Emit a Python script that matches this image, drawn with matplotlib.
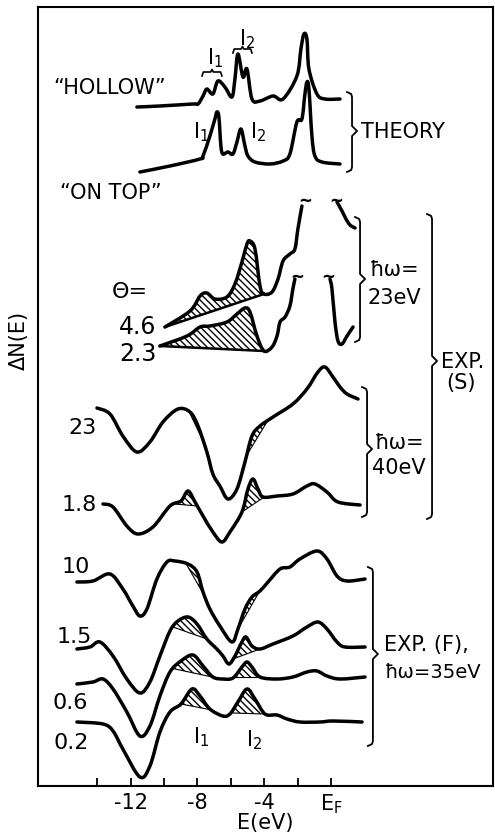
import numpy as np
import matplotlib
matplotlib.use("Agg")
import matplotlib.pyplot as plt
from matplotlib.path import Path
from matplotlib.patches import PathPatch

plt.rcParams['font.family'] = ['DejaVu Sans']
plt.rcParams['hatch.linewidth'] = 1.0
plt.rcParams['mathtext.default'] = 'regular'

# ---- theory curves (E in eV, dN in arbitrary units incl. offset) ----
hollow_E = [-11.62, -10.24, -8.26, -7.96, -7.66, -7.43, -7.07, -6.77, -6.35, -5.93, -5.75, -5.57,
            -5.27, -5.03, -4.73, -4.25, -3.47, -2.87, -2.04, -1.80, -1.62, -1.44, -1.32, -0.84, -0.36, 0.54]
hollow_N = [67.9, 68.0, 68.2, 68.2, 69.0, 69.7, 69.2, 70.5, 69.9, 68.9, 70.7, 73.2,
            70.9, 71.7, 68.7, 68.5, 69.0, 68.7, 71.0, 73.7, 75.2, 74.7, 71.7, 69.2, 68.7, 68.7]

ontop_E = [-11.44, -9.64, -7.84, -7.66, -7.25, -6.95, -6.83, -6.71, -6.59, -6.47, -6.17, -5.87,
           -5.63, -5.39, -5.15, -4.97, -4.55, -3.65, -2.87, -2.46, -2.04, -1.74, -1.56, -1.44,
           -1.32, -1.14, -0.96, -0.54, 0.54]
ontop_N = [61.4, 62.0, 62.7, 63.0, 65.0, 66.7, 67.4, 66.9, 64.0, 63.2, 63.4, 63.2,
           64.4, 65.7, 64.0, 63.0, 62.4, 62.2, 62.5, 63.2, 66.4, 66.7, 69.2, 70.4,
           69.7, 65.0, 63.0, 62.4, 62.2]

# ---- EXP (S), hw = 23 eV (broken curves) ----
s46_E = [-9.94, -8.44, -7.84, -7.43, -6.95, -6.23, -5.75, -5.33, -5.03, -4.85, -4.55, -4.25,
         -4.01, -3.53, -3.17, -2.87, -2.46, -2.16, -1.98, -1.74]
s46_N = [45.9, 47.5, 49.0, 49.3, 48.7, 48.9, 50.2, 52.4, 54.2, 54.5, 53.7, 50.0,
         49.2, 49.4, 50.7, 52.5, 53.2, 53.7, 55.7, 58.0]
s46r_E = [0.36, 0.66, 0.90, 1.14, 1.44]
s46r_N = [58.4, 57.5, 56.7, 56.1, 55.8]

s23_E = [-10.24, -8.62, -7.84, -7.25, -6.23, -5.63, -5.15, -4.85, -4.43, -4.01, -3.53, -3.23,
         -3.05, -2.75, -2.46, -2.28, -2.16]
s23_N = [44.0, 45.0, 45.9, 46.0, 46.4, 47.2, 47.8, 47.4, 45.0, 43.5, 43.9, 45.0,
         46.4, 46.9, 48.0, 49.7, 50.7]
s23r_E = [-0.06, 0.06, 0.24, 0.42, 0.66, 0.96, 1.32]
s23r_N = [50.7, 49.7, 46.4, 44.5, 44.2, 45.0, 45.9]

# ---- EXP (S), hw = 40 eV ----
t23_E = [-14.01, -13.23, -12.46, -11.62, -10.84, -10.06, -9.16, -8.44, -7.96, -7.43, -7.07, -6.65,
         -6.17, -5.63, -5.15, -4.73, -4.25, -3.47, -2.28, -1.44, -0.78, -0.36, 0.12, 0.54, 0.96, 1.62]
t23_N = [37.8, 37.2, 35.0, 33.4, 34.4, 36.4, 37.7, 37.4, 36.0, 33.4, 31.2, 30.0,
         28.7, 29.7, 32.4, 35.0, 36.0, 36.9, 38.2, 39.7, 41.4, 41.9, 40.9, 39.9, 39.2, 38.7]

t18_E = [-13.65, -13.05, -12.22, -11.56, -10.66, -9.64, -8.98, -8.56, -8.14, -7.66, -7.07, -6.53,
         -6.05, -5.33, -4.97, -4.67, -4.37, -4.07, -3.23, -2.28, -1.44, -0.96, -0.24, 0.42, 1.74]
t18_N = [28.2, 27.9, 26.0, 25.2, 25.9, 28.0, 28.5, 29.5, 28.4, 27.0, 25.4, 24.4,
         25.4, 27.4, 29.7, 30.7, 29.7, 28.9, 29.0, 29.2, 30.0, 30.2, 29.4, 28.4, 28.1]

# ---- EXP (F), hw = 35 eV ----
f10_E = [-15.21, -14.25, -13.23, -12.46, -11.86, -11.44, -11.02, -10.42, -9.82, -9.34, -8.56, -8.02,
         -7.66, -7.25, -6.65, -5.93, -5.57, -5.15, -4.73, -4.25, -3.77, -3.05, -2.46, -1.86,
         -0.84, -0.24, 0.36, 0.96, 2.04]
f10_N = [20.4, 20.5, 21.2, 19.7, 18.0, 17.0, 17.7, 20.7, 22.4, 22.5, 22.2, 21.4,
         19.4, 17.7, 16.0, 14.4, 15.7, 17.7, 18.9, 19.5, 20.4, 21.7, 21.9, 22.7,
         23.5, 22.7, 21.0, 20.5, 20.7]

f15_E = [-15.21, -14.43, -13.83, -13.05, -12.22, -11.44, -10.84, -10.24, -9.64, -9.16, -8.56, -8.02,
         -7.43, -6.83, -6.47, -6.11, -5.75, -5.33, -5.09, -4.73, -4.25, -3.47, -2.28, -1.44,
         -0.78, -0.24, 0.36, 0.84, 2.04]
f15_N = [13.7, 13.9, 14.4, 13.0, 10.7, 9.3, 10.4, 13.0, 15.5, 16.5, 16.9, 16.2,
         14.7, 13.7, 13.0, 12.2, 13.0, 14.4, 14.9, 14.0, 13.7, 14.2, 15.0, 15.9,
         16.4, 15.7, 14.4, 13.9, 13.9]

f06_E = [-15.21, -14.25, -13.65, -13.05, -12.22, -11.44, -10.84, -10.24, -9.64, -8.98, -8.26, -7.66,
         -7.07, -6.47, -5.87, -5.33, -5.03, -4.73, -4.25, -3.23, -2.28, -1.44, -0.84, -0.24, 0.54, 2.04]
f06_N = [10.2, 10.4, 10.7, 9.7, 7.4, 5.0, 6.0, 9.0, 11.4, 12.5, 13.1, 12.0,
         10.9, 10.7, 10.8, 11.9, 12.4, 11.9, 10.9, 10.7, 10.9, 11.4, 11.5, 11.0, 10.7, 10.9]

f02_E = [-15.21, -13.65, -13.05, -12.46, -11.44, -10.84, -10.24, -9.64, -8.98, -8.32, -7.84, -7.25,
         -6.47, -6.05, -5.57, -5.03, -4.55, -3.95, -3.23, -2.63, -1.86, -0.66, 0.12, 1.86]
f02_N = [6.4, 6.2, 5.5, 3.7, 0.9, 2.0, 5.4, 7.4, 8.2, 9.7, 9.0, 7.7,
         7.0, 7.2, 8.4, 9.7, 8.7, 7.2, 7.1, 6.7, 6.4, 6.4, 6.5, 6.4]

# hatched I1 / I2 features: (E0, N0, E1, N1) chords under each bump
s46_hatch = [(-9.94, 45.9, -4.01, 49.2)]
s23_hatch = [(-10.24, 44.0, -4.01, 43.5)]
t23_hatch = [(-8.5, 37.45, -7.6, 34.3), (-5.0, 33.2, -3.8, 36.5)]
t18_hatch = [(-9.34, 28.2, -8.0, 28.0), (-5.33, 27.4, -4.0, 28.9)]
f10_hatch = [(-8.7, 22.3, -7.6, 19.1), (-5.5, 15.9, -4.3, 19.4)]
f15_hatch = [(-9.46, 15.9, -7.43, 14.7), (-5.87, 12.7, -4.25, 13.7)]
f06_hatch = [(-9.34, 11.7, -6.83, 10.8), (-5.75, 10.9, -4.25, 10.9)]
f02_hatch = [(-8.98, 8.2, -7.13, 7.6), (-5.87, 7.3, -4.0, 7.2)]

tick_pos = [-14, -12, -10, -8, -6, -4, -2, 0]
tick_lab = ['', '-12', '', '-8', '', '-4', '', '$E_F$']

FS = 15
NS = 16
LW = 2.5

fig = plt.figure(figsize=(4.95, 8.37), dpi=100)
ax = fig.add_axes([38 / 495, 50 / 837, 455 / 495, 779 / 837])
ax.set_xlim(-17.54, 9.70)
ax.set_ylim(0, 77.9)


def curve(E, N):
    # smooth pen-like line through the read points (cubic Bezier path)
    P = np.column_stack([E, N]).astype(float)
    Q = np.vstack([P[0], P, P[-1]])
    verts = [P[0]]
    codes = [Path.MOVETO]
    for i in range(1, len(Q) - 2):
        c1 = Q[i] + (Q[i + 1] - Q[i - 1]) / 6.0
        c2 = Q[i + 1] - (Q[i + 2] - Q[i]) / 6.0
        verts += [c1, c2, Q[i + 1]]
        codes += [Path.CURVE4] * 3
    ax.add_patch(PathPatch(Path(verts, codes), facecolor='none', edgecolor='black',
                           lw=LW, capstyle='round', joinstyle='round'))


def hatch(E, N, chords, base_line=False):
    E = np.asarray(E)
    N = np.asarray(N)
    for e0, n0, e1, n1 in chords:
        xs = np.concatenate(([e0], E[(E > e0) & (E < e1)], [e1]))
        top = np.interp(xs, E, N)
        base = np.interp(xs, [e0, e1], [n0, n1])
        ax.fill_between(xs, base, top, where=top >= base, interpolate=True,
                        facecolor='none', edgecolor='black', hatch='\\\\\\\\\\', linewidth=0)
        ax.plot([e0, e1], [n0, n1], color='black', lw=1.8 if base_line else 0.8)


def brace(x, top, bot, mid, w=0.3, d=0.5):
    xs = [x - w, x - 0.05, x, x, x + w, x, x, x - 0.05, x - w]
    ys = [top, top - d * 0.4, top - d, mid + d, mid, mid - d, bot + d, bot + d * 0.4, bot]
    ax.plot(xs, ys, color='black', lw=1.3)


def hbrace(x0, x1, y, h=0.5):
    xm = (x0 + x1) / 2
    ax.plot([x0, x0 + 0.08, xm - 0.08, xm, xm + 0.08, x1 - 0.08, x1],
            [y, y + h * 0.8, y + h * 0.8, y + h * 1.3, y + h * 0.8, y + h * 0.8, y],
            color='black', lw=1.2)


hatch(s46_E, s46_N, s46_hatch, base_line=True)
hatch(s23_E, s23_N, s23_hatch, base_line=True)
hatch(t23_E, t23_N, t23_hatch)
hatch(t18_E, t18_N, t18_hatch)
hatch(f10_E, f10_N, f10_hatch)
hatch(f15_E, f15_N, f15_hatch)
hatch(f06_E, f06_N, f06_hatch)
hatch(f02_E, f02_N, f02_hatch)

for E, N in [(hollow_E, hollow_N), (ontop_E, ontop_N), (s46_E, s46_N), (s46r_E, s46r_N),
             (s23_E, s23_N), (s23r_E, s23r_N), (t23_E, t23_N), (t18_E, t18_N),
             (f10_E, f10_N), (f15_E, f15_N), (f06_E, f06_N), (f02_E, f02_N)]:
    curve(E, N)

# break marks on the 23 eV curves
for bx, by in [(-1.55, 58.6), (0.3, 58.6), (-2.0, 51.0), (-0.15, 51.0)]:
    ax.text(bx, by, '~', fontsize=12, ha='center', va='center', fontweight='bold')

# curve labels
ax.text(-16.65, 69.9, '“HOLLOW”', fontsize=FS, va='center')
ax.text(-16.25, 59.4, '“ON TOP”', fontsize=FS, va='center')
ax.text(-6.95, 72.9, '$I_1$', fontsize=FS, ha='center', va='center')
ax.text(-5.0, 74.8, '$I_2$', fontsize=FS, ha='center', va='center')
hbrace(-7.72, -6.53, 71.0)
hbrace(-5.87, -4.73, 73.3)
ax.text(-7.75, 65.5, '$I_1$', fontsize=FS, ha='center', va='center')
ax.text(-4.35, 65.5, '$I_2$', fontsize=FS, ha='center', va='center')

ax.text(-13.1, 49.5, 'Θ=', fontsize=NS, va='center')
ax.text(-12.7, 46.0, '4.6', fontsize=17, va='center')
ax.text(-12.7, 43.3, '2.3', fontsize=17, va='center')
ax.text(-15.7, 35.9, '23', fontsize=NS, va='center')
ax.text(-16.1, 28.2, '1.8', fontsize=NS, va='center')
ax.text(-16.1, 22.0, '10', fontsize=NS, va='center')
ax.text(-16.4, 15.0, '1.5', fontsize=NS, va='center')
ax.text(-16.7, 8.4, '0.6', fontsize=NS, va='center')
ax.text(-16.6, 4.4, '0.2', fontsize=NS, va='center')
ax.text(-7.75, 5.0, '$I_1$', fontsize=FS, ha='center', va='center')
ax.text(-4.6, 4.7, '$I_2$', fontsize=FS, ha='center', va='center')

# braces and group labels
brace(1.26, 69.4, 61.4, 65.5)
ax.text(1.8, 65.5, 'THEORY', fontsize=FS, va='center')
brace(1.74, 56.9, 44.4, 50.7)
ax.text(2.3, 51.7, 'ħω=', fontsize=FS, va='center')
ax.text(2.2, 48.9, '23eV', fontsize=FS, va='center')
brace(2.16, 39.9, 26.9, 33.7)
ax.text(2.6, 34.4, 'ħω=', fontsize=FS, va='center')
ax.text(2.45, 31.9, '40eV', fontsize=FS, va='center')
brace(6.05, 57.2, 26.7, 42.5)
ax.text(6.6, 42.5, 'EXP.', fontsize=FS, va='center')
ax.text(6.9, 40.4, '(S)', fontsize=FS, va='center')
brace(2.51, 21.9, 4.0, 13.2)
ax.text(3.2, 14.2, 'EXP. (F),', fontsize=FS, va='center')
ax.text(3.2, 11.4, 'ħω=35eV', fontsize=14, va='center')

# axes styling
for sp in ax.spines.values():
    sp.set_linewidth(1.5)
ax.set_xticks(tick_pos)
ax.set_xticklabels(tick_lab, fontsize=FS)
ax.tick_params(axis='x', direction='in', length=6, width=1.3, pad=4)
ax.set_yticks([])
fig.text(265 / 495, 1 - 823 / 837, 'E(eV)', fontsize=FS, ha='center', va='center')
fig.text(19 / 495, 1 - 340 / 837, 'ΔN(E)', fontsize=FS, rotation=90, ha='center', va='center')

fig.savefig('out.png', dpi=100)
